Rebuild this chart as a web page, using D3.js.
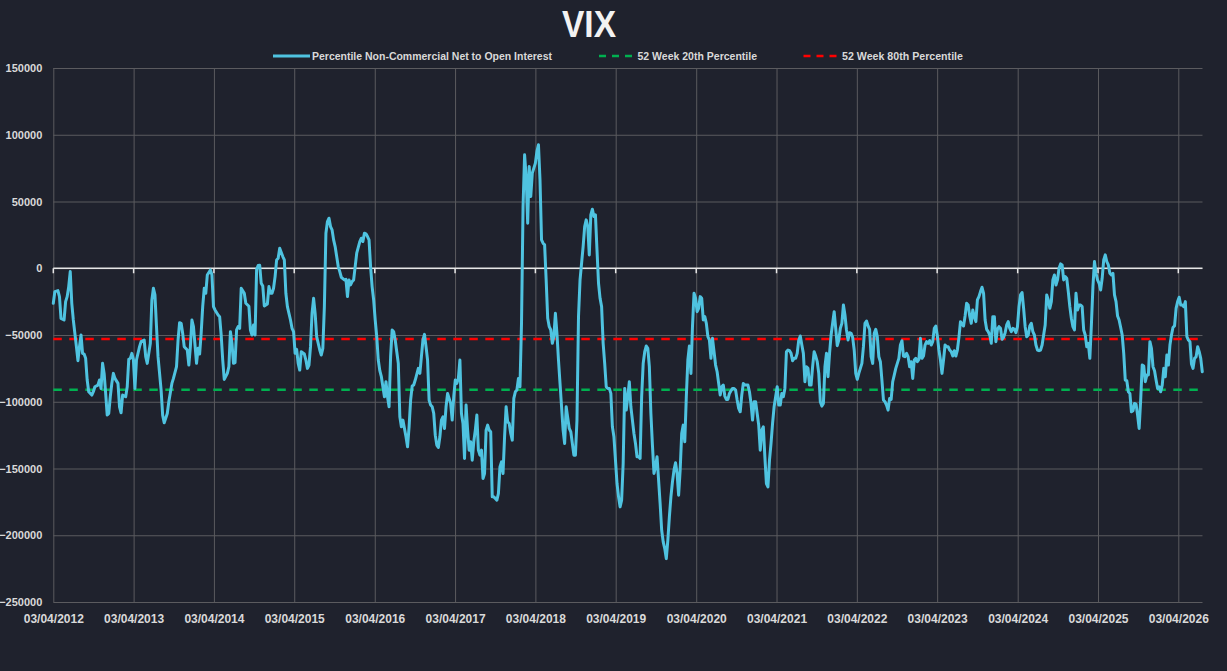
<!DOCTYPE html>
<html><head><meta charset="utf-8">
<script src="https://cdn.jsdelivr.net/npm/d3@7"></script>
<style>
html,body{margin:0;padding:0;background:#1f222d;}
svg{display:block;}
</style></head>
<body>
<svg id="chart" width="1227" height="671"></svg>
<script>
// ---------------- DATA ----------------
const chartTitle = "VIX";
const seriesStart = "2012-04-03";        // first weekly observation
const axisEnd = "2026-07-22";            // right end of the date axis
const tickYears = [2012,2013,2014,2015,2016,2017,2018,2019,2020,2021,2022,2023,2024,2025,2026];
const yTicks = [-250000,-200000,-150000,-100000,-50000,0,50000,100000,150000];
const legendNames = ["Percentile Non-Commercial Net to Open Interest","52 Week 20th Percentile","52 Week 80th Percentile"];
const pct20 = -91000;   // 52 week 20th percentile
const pct80 = -53000;   // 52 week 80th percentile
// [week number since seriesStart, net position]
const netPositions = [
[0,-26250],[1,-17500],[3,-16750],[4,-21250],[5,-37500],[7,-38750],[8,-25000],[9,-21250],[10,-13750],[11,-2500],[12,-26250],[13,-38750],[15,-58750],[16,-69250],[17,-58750],[18,-50000],[19,-63750],[20,-64250],[21,-67500],[22,-83750],[23,-92500],[25,-95000],[26,-92500],[27,-88750],[29,-87500],[30,-83750],[31,-90000],[32,-71250],[33,-78750],[34,-93750],[35,-110000],[36,-108750],[37,-96250],[38,-86250],[39,-78750],[40,-82500],[42,-86250],[43,-103750],[44,-108250],[45,-95000],[47,-96250],[48,-88750],[49,-68250],[50,-67500],[51,-63750],[52,-68250],[53,-90000],[54,-68750],[56,-58750],[57,-55000],[59,-53750],[60,-66250],[61,-71250],[63,-56250],[64,-23750],[65,-15000],[66,-20000],[67,-43750],[68,-66250],[70,-91250],[71,-110000],[72,-115750],[74,-108750],[75,-100000],[77,-86250],[78,-82500],[80,-73750],[81,-53750],[82,-40750],[83,-41250],[84,-48750],[85,-58750],[87,-61250],[88,-72500],[89,-58750],[90,-38750],[91,-43750],[93,-71250],[94,-60000],[95,-64250],[96,-48750],[97,-28750],[98,-15000],[99,-18750],[100,-5000],[102,-1250],[103,-5000],[104,-28750],[105,-31250],[107,-35000],[108,-36250],[109,-50000],[110,-68750],[111,-83250],[113,-78750],[114,-73750],[115,-47500],[116,-56250],[117,-71250],[118,-70750],[119,-46250],[120,-43750],[121,-45000],[122,-15000],[124,-18750],[125,-26250],[127,-28500],
[128,-46250],[129,-50000],[130,-42500],[131,-50000],[132,-1000],[133,2000],[134,2250],[135,-11250],[136,-13250],[137,-28250],[139,-26750],[140,-13750],[141,-18750],[142,-18750],[143,-15000],[144,-6250],[145,6250],[146,7500],[147,15000],[149,8750],[150,6250],[151,-18750],[152,-28750],[153,-33750],[154,-38750],[155,-45000],[156,-47500],[157,-63750],[158,-60750],[159,-71250],[160,-76250],[161,-62500],[163,-64250],[164,-68750],[165,-75000],[166,-72500],[167,-58750],[168,-33750],[169,-22500],[170,-33750],[171,-51250],[173,-61250],[174,-65000],[175,-60000],[176,-28750],[177,26250],[178,35000],[179,37500],[180,31250],[181,28750],[182,21250],[183,16250],[184,8750],[185,1250],[186,-2500],[187,-6750],[189,-8750],[190,-8250],[191,-21250],[192,-8750],[193,-12500],[194,-10000],[195,-8750],[196,1250],[197,11250],[199,20000],[200,22500],[201,20000],[202,26250],[203,25750],[204,23750],[205,21250],[206,1250],[207,-13750],[208,-23750],[209,-38750],[210,-51250],[211,-68750],[212,-76750],[213,-81250],[214,-88750],[215,-96250],[216,-85000],[217,-96250],[218,-103750],[219,-66250],[220,-46250],[221,-47500],[222,-53750],[223,-62500],[224,-71250],[225,-111250],[226,-118750],[227,-113750],[228,-120000],[229,-126250],[230,-133750],[231,-118750],[232,-98750],[233,-88250],[234,-87500],[235,-83750],[237,-75000],[238,-78750],[239,-66250],[240,-53750],[241,-49500],[242,-58750],[243,-68750],[244,-98750],[245,-102500],[246,-103750],[247,-108750],[248,-125000],[249,-132500],[250,-134250],[251,-126250],[252,-113750],
[253,-111250],[254,-120000],[255,-103750],[256,-93750],[257,-97500],[258,-101250],[259,-113750],[260,-96250],[261,-83750],[262,-86250],[263,-82500],[264,-68750],[265,-108750],[266,-116250],[267,-142500],[268,-102500],[269,-121250],[270,-136250],[271,-130000],[272,-143750],[273,-130000],[274,-121250],[275,-110000],[276,-136250],[277,-140000],[278,-136250],[279,-157500],[280,-153750],[281,-121250],[282,-117500],[283,-121250],[284,-122500],[285,-171250],[286,-171250],[287,-172500],[288,-173750],[289,-168750],[290,-148750],[291,-145000],[292,-153750],[293,-126250],[294,-103750],[295,-115000],[296,-116250],[297,-123750],[298,-128750],[299,-97500],[300,-92500],[301,-91250],[302,-82500],[303,-88750],[304,-41250],[305,46250],[306,85000],[307,68750],[308,33750],[309,76250],[310,53750],[311,71250],[312,75000],[313,78750],[314,87500],[315,92500],[316,66250],[317,21250],[318,18750],[319,17500],[320,-8750],[321,-37500],[322,-43750],[323,-46250],[324,-56250],[325,-51250],[326,-33750],[327,-48750],[328,-68750],[329,-86250],[330,-103750],[331,-121250],[332,-131250],[333,-103750],[334,-112000],[335,-120000],[336,-122500],[338,-140000],[339,-140000],[340,-113750],[341,-36250],[342,-8750],[343,3750],[344,16250],[345,31250],[346,36250],[347,31250],[348,10000],[349,40000],[350,44250],[351,38750],[352,40000],[353,13750],[354,-11250],[355,-22500],[356,-28750],[357,-56250],[358,-71250],[359,-88750],[360,-90000],[361,-90000],[362,-93750],[363,-118750],[364,-126250],[365,-143750],[366,-161250],[367,-171250],[368,-178750],[369,-173750],[370,-146250],[371,-90000],[372,-106250],[373,-96250],[374,-85000],[375,-103750],[376,-113750],[377,-123750],[378,-131250],[379,-141250],[380,-141250],
[381,-142500],[382,-96250],[383,-71250],[384,-62500],[385,-58250],[386,-60000],[387,-73750],[388,-108750],[389,-132500],[390,-153750],[391,-148750],[392,-141250],[393,-158750],[394,-176250],[395,-196250],[396,-205000],[397,-210000],[398,-217500],[399,-203750],[400,-186250],[401,-171250],[402,-160000],[403,-151250],[404,-145750],[405,-153750],[406,-170000],[407,-151250],[408,-123750],[409,-117500],[410,-130000],[411,-96250],[412,-68750],[413,-58250],[414,-78750],[415,-43750],[416,-18750],[417,-22500],[418,-32500],[419,-30000],[420,-21250],[421,-22500],[422,-38750],[423,-36250],[424,-41250],[425,-51250],[426,-53750],[427,-67500],[428,-52500],[429,-62500],[430,-72500],[431,-77500],[432,-86250],[433,-95000],[434,-88750],[435,-87500],[436,-95750],[437,-98250],[438,-98250],[439,-93750],[440,-91750],[441,-90000],[442,-90000],[443,-91250],[444,-98750],[445,-105000],[446,-107500],[447,-95000],[448,-86250],[449,-87500],[450,-87500],[451,-87500],[452,-92500],[453,-101250],[454,-113750],[455,-100000],[456,-100000],[457,-108750],[458,-117500],[459,-136250],[460,-121250],[461,-118750],[462,-141250],[463,-161250],[464,-163750],[465,-143750],[466,-131250],[467,-116250],[468,-103750],[469,-96250],[470,-88750],[471,-102500],[472,-102500],[473,-93750],[474,-96250],[475,-90000],[476,-62500],[477,-61250],[478,-61750],[479,-63750],[480,-69250],[481,-67500],[482,-67500],[483,-63750],[484,-53750],[485,-50750],[486,-57500],[487,-63750],[488,-85000],[489,-73750],[490,-75000],[491,-87500],[492,-87500],[493,-73750],[494,-62500],[495,-65750],[496,-70000],[497,-78750],[498,-100000],[499,-103250],[500,-101250],[501,-73750],[502,-63750],[503,-81250],[504,-63750],[505,-50000],[506,-41250],[507,-32500],[508,-45000],[509,-58000],
[510,-53750],[511,-45000],[512,-41250],[513,-27500],[514,-35000],[515,-46250],[516,-53750],[517,-48250],[518,-48750],[519,-51750],[520,-61250],[521,-78750],[522,-83250],[523,-78750],[524,-75000],[525,-71250],[526,-58750],[527,-41250],[528,-39500],[529,-43250],[530,-45750],[531,-66250],[532,-71250],[533,-48750],[534,-45750],[535,-51250],[536,-66250],[537,-70000],[538,-83750],[539,-98750],[540,-100000],[541,-102500],[542,-106250],[543,-97500],[544,-98250],[545,-85000],[546,-80000],[547,-75000],[548,-71250],[549,-67500],[550,-57500],[551,-54250],[552,-65750],[553,-66250],[554,-63750],[555,-66250],[556,-73750],[557,-70000],[558,-82500],[559,-68750],[560,-67500],[561,-70000],[562,-68250],[563,-52500],[564,-67500],[565,-65750],[566,-57500],[567,-55000],[568,-56250],[569,-54250],[570,-57500],[571,-55000],[572,-45000],[573,-43250],[574,-50750],[575,-61250],[576,-68750],[577,-78750],[578,-68750],[579,-57500],[580,-58750],[581,-58750],[582,-61250],[583,-62500],[584,-65750],[585,-61750],[586,-65750],[587,-61250],[588,-51750],[589,-40000],[590,-41750],[591,-43250],[592,-35750],[593,-26250],[594,-27500],[595,-35750],[596,-41250],[597,-31250],[598,-36250],[599,-40000],[600,-23750],[601,-21250],[602,-17500],[603,-14250],[604,-18750],[605,-38750],[606,-45750],[607,-47500],[608,-50000],[609,-56250],[610,-36250],[611,-36250],[612,-55000],[613,-45750],[614,-43750],[615,-45000],[616,-53250],[617,-51750],[618,-48250],[619,-42500],[620,-40000],[621,-45000],[622,-47500],[623,-45000],[624,-45750],[625,-48250],[626,-43750],[627,-28750],[628,-20000],[629,-18250],[630,-30000],[631,-43750],[632,-51250],
[633,-50000],[634,-43250],[635,-41250],[636,-47500],[637,-50000],[638,-57500],[639,-61250],[640,-61750],[641,-61250],[642,-57500],[643,-50000],[644,-42500],[645,-20000],[646,-23750],[647,-30000],[648,-25000],[649,-8750],[650,-5000],[651,-12500],[652,-8750],[653,0],[654,3250],[655,2500],[656,-8750],[657,-6250],[658,-7500],[659,-17500],[660,-28750],[661,-37500],[662,-43750],[663,-46250],[664,-18750],[665,-31250],[666,-27500],[667,-27500],[668,-28750],[669,-46250],[670,-50000],[671,-58750],[672,-56250],[673,-67500],[674,-42500],[675,-13750],[676,5000],[677,-3750],[678,-8750],[679,-11250],[680,-16250],[681,-7500],[682,6250],[683,10000],[684,5000],[685,2500],[686,-3750],[687,-5000],[688,-3750],[689,-20000],[690,-25000],[691,-35750],[692,-38750],[693,-44250],[694,-50000],[695,-63750],[696,-83750],[697,-84250],[698,-92500],[699,-93750],[700,-107500],[701,-106750],[702,-101250],[703,-101750],[704,-110000],[705,-120000],[706,-98750],[707,-72500],[708,-73250],[709,-85000],[710,-80000],[711,-80000],[712,-55000],[713,-60000],[714,-73750],[715,-76750],[716,-83750],[717,-90000],[718,-88750],[719,-92500],[720,-87500],[721,-75000],[722,-81250],[723,-65000],[724,-72500],[725,-57500],[726,-50000],[727,-44250],[728,-43250],[729,-30000],[730,-25000],[731,-21750],[732,-27500],[733,-27500],[734,-28750],[735,-25000],[736,-51250],[737,-53750],[738,-55000],[739,-71750],[740,-75000],[741,-67500],[742,-66250],[743,-58750],[744,-62500],[745,-67500],[746,-77500]
];

// ---------------- STYLE ----------------
const C = {bg:"#1f222d", grid:"#5b5b5f", zero:"#e6e6e6", text:"#d9d9d9", title:"#f2f2f2",
           line:"#4fc3e0", green:"#00b050", red:"#ff0000"};
const M = {left:53.3, right:1202.5, top:68, bottom:602};

const svg = d3.select("#chart");
svg.append("rect").attr("width",1227).attr("height",671).attr("fill",C.bg);

const parse = d3.utcParse("%Y-%m-%d");
const t0 = parse(seriesStart);
const data = netPositions.map(([w,v]) => ({date:d3.utcDay.offset(t0, w*7), value:v}));
const xTicks = tickYears.map(yr => d3.utcYear.offset(t0, yr-2012));

const x = d3.scaleUtc().domain([t0, parse(axisEnd)]).range([M.left, M.right]);
const y = d3.scaleLinear().domain([-250000,150000]).range([M.bottom, M.top]);

const font = "'Liberation Sans', Arial, sans-serif";

// horizontal grid + y labels
const yAxis = svg.append("g").attr("transform",`translate(${M.left},0)`)
  .call(d3.axisLeft(y).tickValues(yTicks).tickSize(-(M.right-M.left)).tickPadding(11).tickFormat(d3.format("d")));
yAxis.select(".domain").remove();
yAxis.selectAll(".tick line").attr("stroke",C.grid).attr("stroke-width",1);
yAxis.selectAll(".tick text").attr("fill",C.text).attr("font-family",font).attr("font-weight","bold").attr("font-size","11px");

// vertical grid + x labels
const xAxis = svg.append("g").attr("transform",`translate(0,${M.bottom})`)
  .call(d3.axisBottom(x).tickValues(xTicks).tickSize(-(M.bottom-M.top)).tickPadding(12).tickFormat(d3.utcFormat("%d/%m/%Y")));
xAxis.select(".domain").remove();
xAxis.selectAll(".tick line").attr("stroke",C.grid).attr("stroke-width",1);
xAxis.selectAll(".tick text").attr("fill",C.text).attr("font-family",font).attr("font-weight","bold").attr("font-size","12px");

// zero line with tick marks
svg.append("line").attr("x1",M.left).attr("x2",M.right).attr("y1",y(0)).attr("y2",y(0))
  .attr("stroke",C.zero).attr("stroke-width",1.5);
svg.append("g").selectAll("line").data(xTicks).join("line")
  .attr("x1",d=>x(d)).attr("x2",d=>x(d)).attr("y1",y(0)).attr("y2",y(0)+5)
  .attr("stroke",C.zero).attr("stroke-width",1.5);

// percentile lines
const flat = v => [{date:t0,value:v},{date:data[data.length-1].date,value:v}];
const lineGen = d3.line().x(d=>x(d.date)).y(d=>y(d.value));
svg.append("path").datum(flat(pct20)).attr("d",lineGen).attr("fill","none")
  .attr("stroke",C.green).attr("stroke-width",2.3).attr("stroke-dasharray","8.5,7.5");
svg.append("path").datum(flat(pct80)).attr("d",lineGen).attr("fill","none")
  .attr("stroke",C.red).attr("stroke-width",2.3).attr("stroke-dasharray","8.5,7.5");

// main series
svg.append("path").datum(data).attr("d",lineGen).attr("fill","none")
  .attr("stroke",C.line).attr("stroke-width",3).attr("stroke-linejoin","round").attr("stroke-linecap","round");

// title
svg.append("text").attr("x",589).attr("y",37).attr("text-anchor","middle")
  .attr("font-family",font).attr("font-weight","bold").attr("font-size","36px")
  .attr("fill",C.title).attr("textLength",54).attr("lengthAdjust","spacingAndGlyphs").text(chartTitle);

// legend
const legend = [
  {name:legendNames[0], color:C.line, dash:null, lx:273, tx:312, tw:240},
  {name:legendNames[1], color:C.green, dash:"7,6", lx:599, tx:637.5, tw:119.5},
  {name:legendNames[2], color:C.red, dash:"7,6", lx:803.5, tx:842, tw:121}
];
const lg = svg.append("g").selectAll("g").data(legend).join("g");
lg.append("line").attr("x1",d=>d.lx).attr("x2",d=>d.lx+37).attr("y1",56).attr("y2",56)
  .attr("stroke",d=>d.color).attr("stroke-width",d=>d.dash?2.3:3).attr("stroke-dasharray",d=>d.dash);
lg.append("text").attr("x",d=>d.tx).attr("y",60).attr("font-family",font).attr("font-weight","bold")
  .attr("font-size","11px").attr("fill",C.text)
  .attr("textLength",d=>d.tw).attr("lengthAdjust","spacingAndGlyphs").text(d=>d.name);
</script>
</body></html>
